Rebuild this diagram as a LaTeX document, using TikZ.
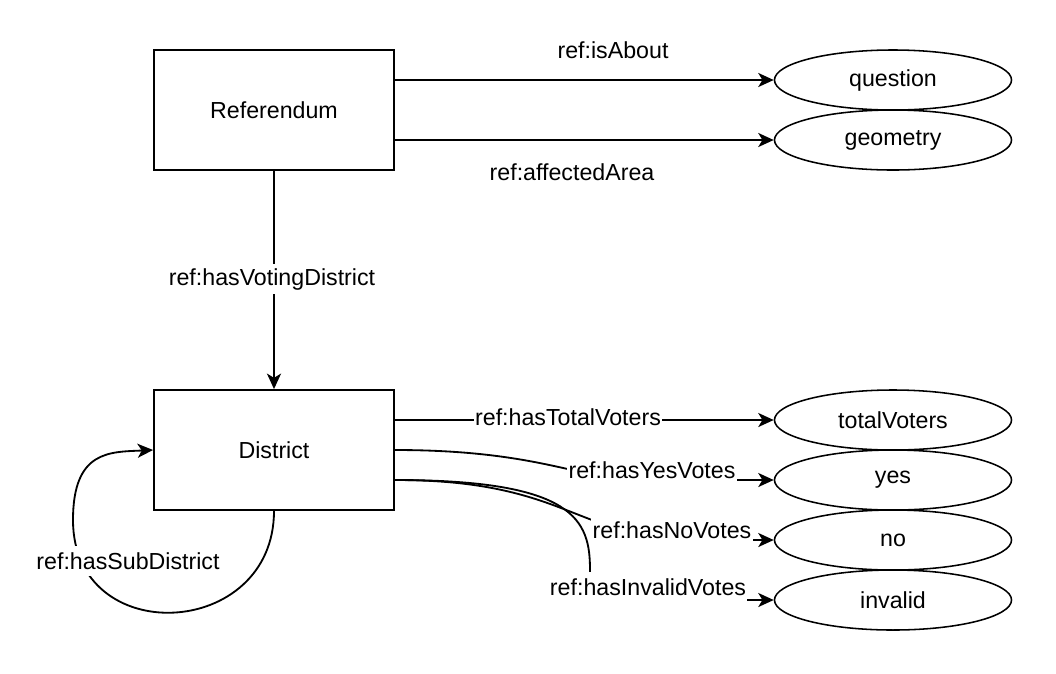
\documentclass[tikz,border=0pt]{standalone}
\usepackage{fontspec}
\setmainfont{Liberation Sans}
\usetikzlibrary{shapes.geometric,arrows.meta,calc}
\tikzset{
    box/.style={draw, line width=1.3pt, minimum width=6cm, minimum height=3cm},
    val/.style={draw, ellipse, line width=1.1pt, minimum width=5.925cm, minimum height=1.5cm, inner sep=0pt},
    rel/.style={line width=1.3pt, -{Stealth[length=11pt,width=10pt,inset=3pt]}},
    lbl/.style={fill=white, inner sep=1pt, minimum height=0.75cm},
}

\begin{document}
\begin{tikzpicture}[x=0.025cm, y=-0.025cm, font=\fontsize{16.5}{20}\selectfont]
\useasboundingbox (0,0) rectangle (1056,673);

\node[box] (ref) at (274,110) {Referendum};
\node[box] (dist) at (274,450) {District};

\node[val] (q) at (893,80) {question};
\node[val] (geo) at (893,140) {geometry};
\node[val] (tot) at (893,420) {totalVoters};
\node[val] (yes) at (893,480) {yes};
\node[val] (no) at (893,540) {no};
\node[val] (inv) at (893,600) {invalid};

\draw[rel] ($(ref.east)+(0,-30)$) -- (q.west);
\draw[rel] ($(ref.east)+(0,30)$) -- (geo.west);
\draw[rel] (ref.south) -- (dist.north);

\draw[rel] ($(dist.east)+(0,-30)$) -- (tot.west);
\draw[rel] (dist.east) .. controls (540,450) and (580,480) .. (640,480) -- (yes.west);
\draw[rel] ($(dist.east)+(0,30)$) .. controls (570,480) and (575,540) .. (700,540) -- (no.west);
\draw[rel] ($(dist.east)+(0,30)$) .. controls (575,480) and (590,520) .. (590,570) |- (inv.west);
%\draw[rel] (dist.south) to[out=-90,in=180,loop] (dist.west);
\draw[rel] (dist.south) .. controls (274,640) and (73,650) .. (73,520) .. controls (73,450) and (110,452) .. (dist.west);

\node (isabout) at (613,50) {ref:isAbout};
\node (area) at (572,172) {ref:affectedArea};
\node[lbl] (vd) at (272,279) {ref:hasVotingDistrict};
\node[lbl] (totl) at (568,417) {ref:hasTotalVoters};
\node[lbl] (yesl) at (652,470) {ref:hasYesVotes};
\node[lbl] (nol) at (672,530) {ref:hasNoVotes};
\node[lbl] (invl) at (648,587) {ref:hasInvalidVotes};
\node[lbl] (sub) at (128,561) {ref:hasSubDistrict};
\end{tikzpicture}
\end{document}
